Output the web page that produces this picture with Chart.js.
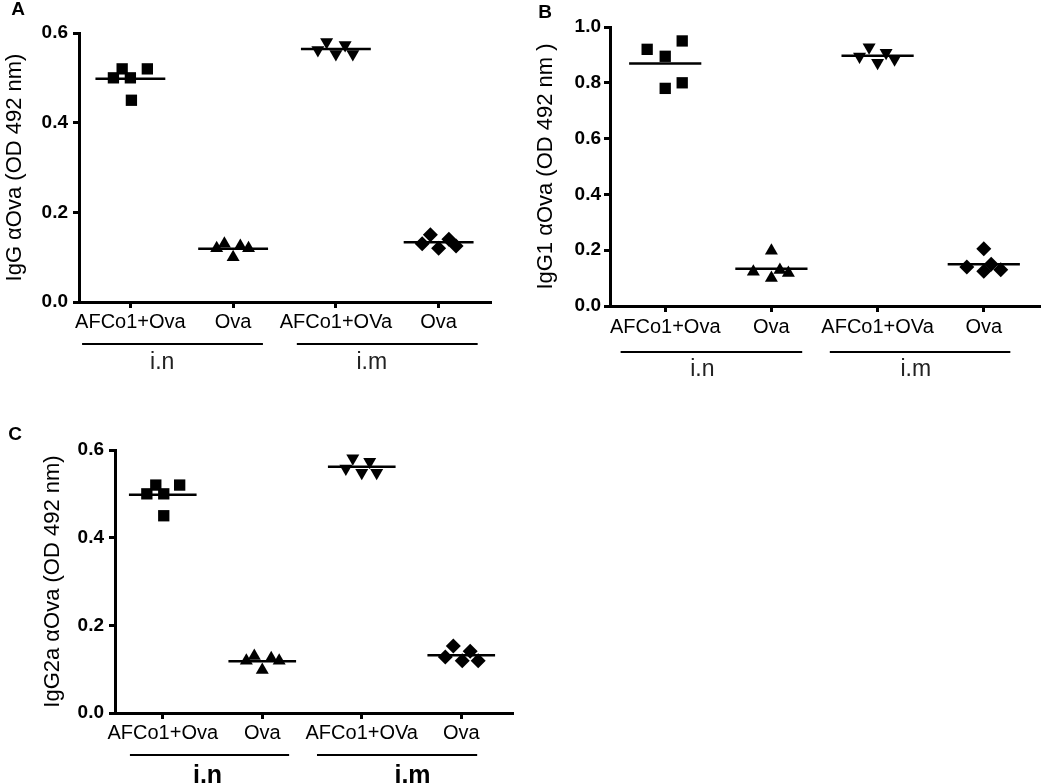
<!DOCTYPE html>
<html>
<head>
<meta charset="utf-8">
<script src="https://cdn.jsdelivr.net/npm/chart.js@4.4.1/dist/chart.umd.min.js"></script>
<style>
  body { margin: 0; background: #fff; }
  #wrap { position: relative; width: 1047px; height: 783px; overflow: hidden; }
  canvas { position: absolute; }
</style>
</head>
<body>
<div id="wrap">
  <canvas id="chartA" width="520" height="390" style="left:0;top:0"></canvas>
  <canvas id="chartB" width="527" height="390" style="left:520px;top:0"></canvas>
  <canvas id="chartC" width="520" height="393" style="left:0;top:390px"></canvas>
</div>
<script>
const categories = ['AFCo1+Ova', 'Ova', 'AFCo1+OVa', 'Ova'];
const routes = ['i.n', 'i.m'];

// Panel A - IgG anti-Ova (OD 492 nm)
const igGAfcoIn = [0.50, 0.52, 0.50, 0.45, 0.52];
const igGOvaIn = [0.12, 0.13, 0.10, 0.125, 0.12];
const igGAfcoIm = [0.562, 0.58, 0.553, 0.573, 0.553];
const igGOvaIm = [0.13, 0.15, 0.12, 0.14, 0.125];
const yTicksA = [0, 0.2, 0.4, 0.6];

// Panel B - IgG1 anti-Ova
const igG1AfcoIn = [0.92, 0.895, 0.95, 0.78, 0.80];
const igG1OvaIn = [0.123, 0.198, 0.10, 0.129, 0.118];
const igG1AfcoIm = [0.894, 0.927, 0.872, 0.908, 0.884];
const igG1OvaIm = [0.14, 0.205, 0.125, 0.15, 0.13];
const yTicksB = [0, 0.2, 0.4, 0.6, 0.8, 1.0];

// Panel C - IgG2a anti-Ova
const igG2aAfcoIn = [0.50, 0.52, 0.50, 0.45, 0.52];
const igG2aOvaIn = [0.119, 0.13, 0.098, 0.125, 0.119];
const igG2aAfcoIm = [0.558, 0.581, 0.548, 0.573, 0.548];
const igG2aOvaIm = [0.128, 0.153, 0.119, 0.141, 0.119];
const yTicksC = [0, 0.2, 0.4, 0.6];

// horizontal scatter of the dots inside each column (layout only)
const spreadA = [[-0.165, -0.08, 0, 0.01, 0.165], [-0.16, -0.085, 0, 0.07, 0.15],
                 [-0.175, -0.09, 0, 0.09, 0.165], [-0.16, -0.08, 0, 0.1, 0.17]];
const spreadB = [[-0.17, 0, 0.16, 0, 0.16], [-0.17, 0, 0, 0.08, 0.16],
                 [-0.17, -0.08, 0, 0.08, 0.16], [-0.16, 0, 0, 0.07, 0.16]];
const spreadC = [[-0.16, -0.07, 0.01, 0.01, 0.17], [-0.16, -0.08, 0, 0.09, 0.17],
                 [-0.16, -0.09, 0, 0.08, 0.15], [-0.16, -0.08, 0.01, 0.09, 0.17]];

const FONT = '"Liberation Sans", Arial, Helvetica, sans-serif';
const markers = ['rect', 'triangle', 'triangle', 'rectRot'];
const markerRotation = [0, 0, 180, 0];
const markerRadius = [8, 7.5, 7.5, 7.5];

function buildDatasets(groups, spread, half) {
    const sets = [];
    groups.forEach((vals, i) => {
        const mean = vals.reduce((a, b) => a + b, 0) / vals.length;
        sets.push({
            data: [{ x: i - half, y: mean }, { x: i + half, y: mean }],
            showLine: true,
            borderColor: '#000',
            borderWidth: 2.5,
            pointRadius: 0
        });
        sets.push({
            data: vals.map((v, k) => ({ x: i + spread[i][k], y: v })),
            pointStyle: markers[i],
            rotation: markerRotation[i],
            pointRadius: markerRadius[i],
            backgroundColor: '#000',
            borderColor: '#000',
            borderWidth: 0
        });
    });
    return sets;
}

function makeDecor(d) {
    return {
        id: 'panelDecor',
        afterDraw(chart) {
            const ctx = chart.ctx;
            const x = chart.scales.x;
            ctx.save();
            ctx.fillStyle = '#000';
            ctx.textAlign = 'center';
            ctx.textBaseline = 'middle';
            ctx.font = 'bold 19px ' + FONT;
            ctx.fillText(d.letter, d.letterX, d.letterY);
            d.spans.forEach((sp, i) => {
                ctx.beginPath();
                ctx.lineWidth = 2;
                ctx.strokeStyle = '#000';
                ctx.moveTo(x.getPixelForValue(sp[0]), d.bracketY);
                ctx.lineTo(x.getPixelForValue(sp[1]), d.bracketY);
                ctx.stroke();
                ctx.font = d.groupFont;
                ctx.fillStyle = d.groupColor;
                ctx.fillText(routes[i], x.getPixelForValue(d.labelAt[i]), d.labelY);
            });
            ctx.restore();
        }
    };
}

function makeChart(id, p) {
    const axisGrid = { drawOnChartArea: false, drawTicks: true, tickLength: 6, lineWidth: 3, color: '#000' };
    const axisBorder = { display: true, width: 3, color: '#000' };
    return new Chart(document.getElementById(id), {
        type: 'scatter',
        data: { datasets: buildDatasets(p.groups, p.spread, p.half) },
        options: {
            responsive: false,
            animation: false,
            events: [],
            layout: { padding: { top: p.top, right: p.right, left: 0, bottom: 0 } },
            plugins: { legend: { display: false }, tooltip: { enabled: false } },
            scales: {
                x: {
                    type: 'linear',
                    min: p.xMin,
                    max: p.xMax,
                    afterBuildTicks: s => { s.ticks = categories.map((c, i) => ({ value: i })); },
                    afterFit: s => { s.height = p.xHeight; },
                    ticks: {
                        callback: v => categories[v],
                        autoSkip: false,
                        maxRotation: 0,
                        minRotation: 0,
                        padding: p.xPad,
                        color: '#000',
                        font: { family: FONT, size: 20 }
                    },
                    grid: axisGrid,
                    border: axisBorder
                },
                y: {
                    min: 0,
                    max: p.yTicks[p.yTicks.length - 1],
                    afterBuildTicks: s => { s.ticks = p.yTicks.map(v => ({ value: v })); },
                    afterFit: s => { s.width = p.yWidth; },
                    ticks: {
                        callback: v => Number(v).toFixed(1),
                        padding: p.yPad,
                        color: '#000',
                        font: { family: FONT, size: 19, weight: 'bold' }
                    },
                    title: {
                        display: true,
                        text: p.title,
                        color: '#000',
                        padding: { top: p.titlePad, bottom: 0 },
                        font: { family: FONT, size: 22 }
                    },
                    grid: axisGrid,
                    border: axisBorder
                }
            }
        },
        plugins: [makeDecor(p.decor)]
    });
}

makeChart('chartA', {
    groups: [igGAfcoIn, igGOvaIn, igGAfcoIm, igGOvaIm],
    spread: spreadA, half: 0.34,
    yTicks: yTicksA, title: 'IgG αOva (OD 492 nm)',
    top: 33, right: 30, xHeight: 88, yWidth: 79,
    xMin: -0.5, xMax: 3.5, xPad: 2, yPad: 5, titlePad: 2,
    decor: {
        letter: 'A', letterX: 18, letterY: 10,
        spans: [[-0.47, 1.29], [1.62, 3.38]], labelAt: [0.31, 2.35],
        bracketY: 344, labelY: 363,
        groupFont: '23px ' + FONT, groupColor: '#222'
    }
});

makeChart('chartB', {
    groups: [igG1AfcoIn, igG1OvaIn, igG1AfcoIm, igG1OvaIm],
    spread: spreadB, half: 0.34,
    yTicks: yTicksB, title: 'IgG1 αOva (OD 492 nm )',
    top: 27, right: 7, xHeight: 84, yWidth: 90,
    xMin: -0.52, xMax: 3.52, xPad: 3, yPad: 3, titlePad: 13,
    decor: {
        letter: 'B', letterX: 25, letterY: 13,
        spans: [[-0.42, 1.29], [1.55, 3.25]], labelAt: [0.35, 2.36],
        bracketY: 352, labelY: 370,
        groupFont: '23px ' + FONT, groupColor: '#222'
    }
});

makeChart('chartC', {
    groups: [igG2aAfcoIn, igG2aOvaIn, igG2aAfcoIm, igG2aOvaIm],
    spread: spreadC, half: 0.34,
    yTicks: yTicksC, title: 'IgG2a αOva (OD 492 nm)',
    top: 60, right: 8, xHeight: 70, yWidth: 115,
    xMin: -0.48, xMax: 3.51, xPad: 2, yPad: 5, titlePad: 40,
    decor: {
        letter: 'C', letterX: 15, letterY: 45,
        spans: [[-0.33, 1.27], [1.55, 3.16]], labelAt: [0.45, 2.51],
        bracketY: 365, labelY: 386,
        groupFont: 'bold 25px ' + FONT, groupColor: '#000'
    }
});
</script>
</body>
</html>
